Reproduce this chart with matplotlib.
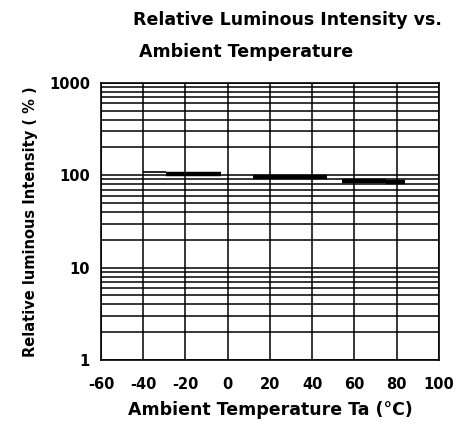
import numpy as np
import matplotlib
matplotlib.use("Agg")
import matplotlib.pyplot as plt

# temperature ticks and y decades
x_ticks = [-60, -40, -20, 0, 20, 40, 60, 80, 100]
y_ticks = [1, 10, 100, 1000]
y_tick_labels = ["1", "10", "100", "1000"]

# curve, drawn as flat pieces (start, end, value)
seg_start = [-29, 12, 54, 75]
seg_end = [-3, 47, 75, 84]
seg_value = [102.5, 95, 86, 84]

# thin lead-in piece
thin_start = [-40]
thin_end = [-29]
thin_value = [108]

plt.rcParams['font.family'] = ['DejaVu Sans']

fig = plt.figure(figsize=(4.59, 4.25), dpi=100)
ax = fig.add_axes([0.220, 0.153, 0.736, 0.652])

ax.set_yscale('log')
ax.set_xlim(-60, 100)
ax.set_ylim(1, 1000)

ax.set_xticks(x_ticks)
ax.set_xticklabels([str(t) for t in x_ticks], fontsize=10.5, fontweight='bold')
ax.set_yticks(y_ticks)
ax.set_yticklabels(y_tick_labels, fontsize=10.5, fontweight='bold')
ax.yaxis.set_minor_formatter(plt.NullFormatter())
ax.tick_params(which='both', length=0)
ax.tick_params(axis='x', pad=12)
ax.tick_params(axis='y', pad=8)

ax.grid(True, which='both', color='black', linewidth=1.1)
for s in ax.spines.values():
    s.set_linewidth(1.2)

ax.hlines(seg_value, seg_start, seg_end, colors='black', linewidth=3.2, zorder=3)
ax.hlines(thin_value, thin_start, thin_end, colors='black', linewidth=1.2, zorder=3)

ax.set_xlabel('Ambient Temperature Ta (°C)', fontsize=12.5, fontweight='bold', labelpad=7)
ax.set_ylabel('Relative luminous Intensity ( % )', fontsize=10.5, fontweight='bold', labelpad=8)

fig.text(0.290, 0.953, 'Relative Luminous Intensity vs.', fontsize=12.5,
         fontweight='bold', ha='left', va='center')
fig.text(0.303, 0.878, 'Ambient Temperature', fontsize=12.5,
         fontweight='bold', ha='left', va='center')

fig.savefig('out.png', dpi=100)
